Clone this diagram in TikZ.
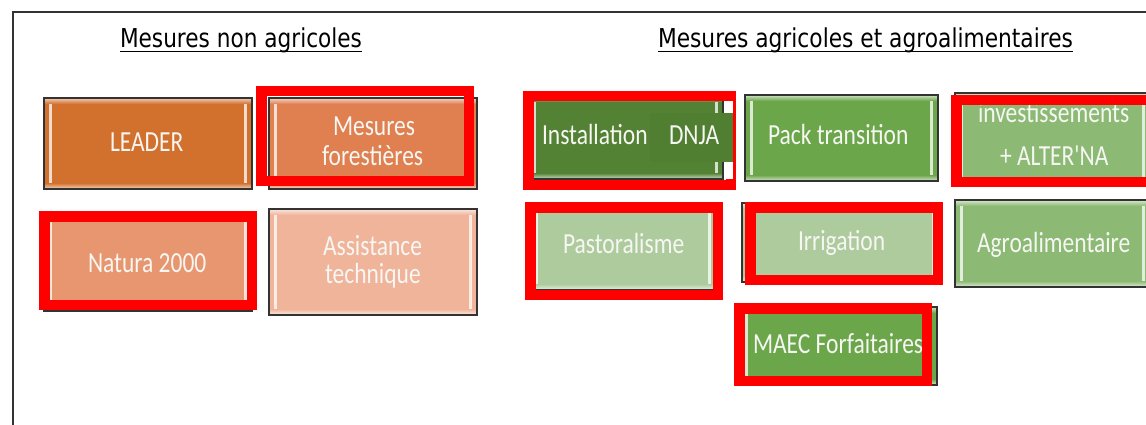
\documentclass[tikz,border=0pt]{standalone}
\usepackage{fontspec}
\usepackage{graphicx}
\newfontfamily\carl{Carlito}
\newfontfamily\titf{DejaVu Sans}
\definecolor{or1}{HTML}{D2702E}
\definecolor{or2}{HTML}{E07F50}
\definecolor{or3}{HTML}{E8966F}
\definecolor{or4}{HTML}{F0B49B}
\definecolor{gr1}{HTML}{548235}
\definecolor{gr2}{HTML}{6CA64B}
\definecolor{gr3}{HTML}{8CBA74}
\definecolor{gr4}{HTML}{AECB9E}
\definecolor{patchc}{HTML}{507F32}
\definecolor{bordc}{HTML}{333333}
\definecolor{txtc}{HTML}{F6F6F2}
\definecolor{redf}{HTML}{FF0000}
\newcommand\vs[1]{\scalebox{1}[1.24]{#1}}
\newcommand\fitw[2]{\resizebox{#1pt}{\height}{#2}}
\newcommand\bevbox[6]{%
  \pgfmathsetmacro\bw{#4-#2}\pgfmathsetmacro\bh{#5-#3}%
  \node[bbox, fill=#6, minimum width=\bw pt, minimum height=\bh pt] (#1) at (#2,#3) {};
  \shade[top color=#6!45!white, bottom color=#6] ([xshift=1pt,yshift=-1pt]#1.north west) rectangle ([xshift=-1pt,yshift=-6pt]#1.north east);
  \shade[top color=#6, bottom color=#6!40!white] ([xshift=1pt,yshift=6pt]#1.south west) rectangle ([xshift=-1pt,yshift=1pt]#1.south east);
  \draw[#6!25!white, line width=2.5pt] ([xshift=6.5pt,yshift=-6pt]#1.north west) -- ([xshift=6.5pt,yshift=6pt]#1.south west);
  \draw[#6!25!white, line width=2.5pt] ([xshift=-6.5pt,yshift=-6pt]#1.north east) -- ([xshift=-6.5pt,yshift=6pt]#1.south east);
  \draw[bordc, line width=1.4pt] (#1.north west) rectangle (#1.south east);
}
\newcommand\redframe[4]{%
  \draw[redf, line width=10.5pt] ({#1+5.25},{#2+5.25}) rectangle ({#3-5.25},{#4-5.25});
}
\begin{document}
\begin{tikzpicture}[x=1pt,y=-1pt,
  bbox/.style={anchor=north west, inner sep=0pt, outer sep=0pt, rectangle},
  bt/.style={anchor=base west, inner sep=0pt, outer sep=0pt, text=txtc, font=\carl\fontsize{23.5}{26}\selectfont},
  tt/.style={anchor=base west, inner sep=0pt, outer sep=0pt, text=black, font=\titf\fontsize{26}{30}\selectfont}]
\useasboundingbox (0,0) rectangle (1146,425);
\fill[white] (0,0) rectangle (1146,425);
\clip (0,0) rectangle (1146,425);
% frame
\draw[bordc, line width=1.3pt] (13,430) -- (13,12) -- (1150,12);
% titles
\node[tt] (t1) at (120,48) {\fitw{242}{Mesures non agricoles}};
\node[tt] (t2) at (658,48) {\fitw{415}{Mesures agricoles et agroalimentaires}};
\draw[black, line width=1pt] ([yshift=-3.5pt]t1.base west) -- ([yshift=-3.5pt]t1.base east);
\draw[black, line width=1pt] ([yshift=-3.5pt]t2.base west) -- ([yshift=-3.5pt]t2.base east);
% left boxes
\bevbox{bLeader}{44}{98}{252}{189}{or1}
\bevbox{bForest}{269}{98}{477}{189}{or2}
\bevbox{bNatura}{44}{214}{252}{311}{or3}
\bevbox{bAssist}{269}{209}{477}{315}{or4}
% right boxes
\bevbox{bInstal}{528}{96}{723}{179}{gr1}
\bevbox{bPack}{745}{95}{938}{181}{gr2}
\bevbox{bInvest}{955}{93}{1150}{184}{gr3}
\bevbox{bPasto}{530}{205}{716}{290}{gr4}
\bevbox{bIrrig}{742}{203}{940}{282}{gr4}
\bevbox{bAgro}{955}{200}{1150}{287}{gr3}
\bevbox{bMaec}{740}{307}{937}{385}{gr2}
% DNJA patch
\fill[patchc] (650,113) rectangle (733,162);
% texts
\node[bt] (tLeader) at (110,152) {\vs{LEADER}};
\node[bt] (tForest1) at (333,136) {\vs{Mesures}};
\node[bt] (tForest2) at (322,165) {\vs{forestières}};
\node[bt] (tNatura) at (88,272) {\vs{Natura 2000}};
\node[bt] (tAssist1) at (323,255) {\vs{Assistance}};
\node[bt] (tAssist2) at (325,283) {\vs{technique}};
\node[bt] (tInstal) at (542,145) {\vs{Installation}};
\node[bt] (tDnja) at (669,145) {\vs{DNJA}};
\node[bt] (tPack) at (768,145) {\vs{Pack transition}};
\node[bt] (tInvest1) at (978,123) {\vs{investissements}};
\node[bt] (tInvest2) at (1000,166) {\vs{+ ALTER'NA}};
\node[bt] (tPasto) at (563,253) {\vs{Pastoralisme}};
\node[bt] (tIrrig) at (798,250) {\vs{Irrigation}};
\node[bt] (tAgro) at (977,252) {\vs{Agroalimentaire}};
\node[bt] (tMaec) at (753,353) {\vs{MAEC Forfaitaires}};
% red frames
\redframe{256}{86}{474}{186}
\redframe{39}{211}{257}{310}
\redframe{523}{91}{736}{190}
\redframe{951}{95}{1157}{187}
\redframe{525}{202}{723}{300}
\redframe{745}{202}{943}{285}
\redframe{734}{303}{932}{386}
% gap in the Installation frame
\fill[white] (724,101) rectangle (733,113);
\fill[white] (724,162) rectangle (733,179);
\fill[patchc] (724,113) rectangle (733,162);
\end{tikzpicture}
\end{document}
